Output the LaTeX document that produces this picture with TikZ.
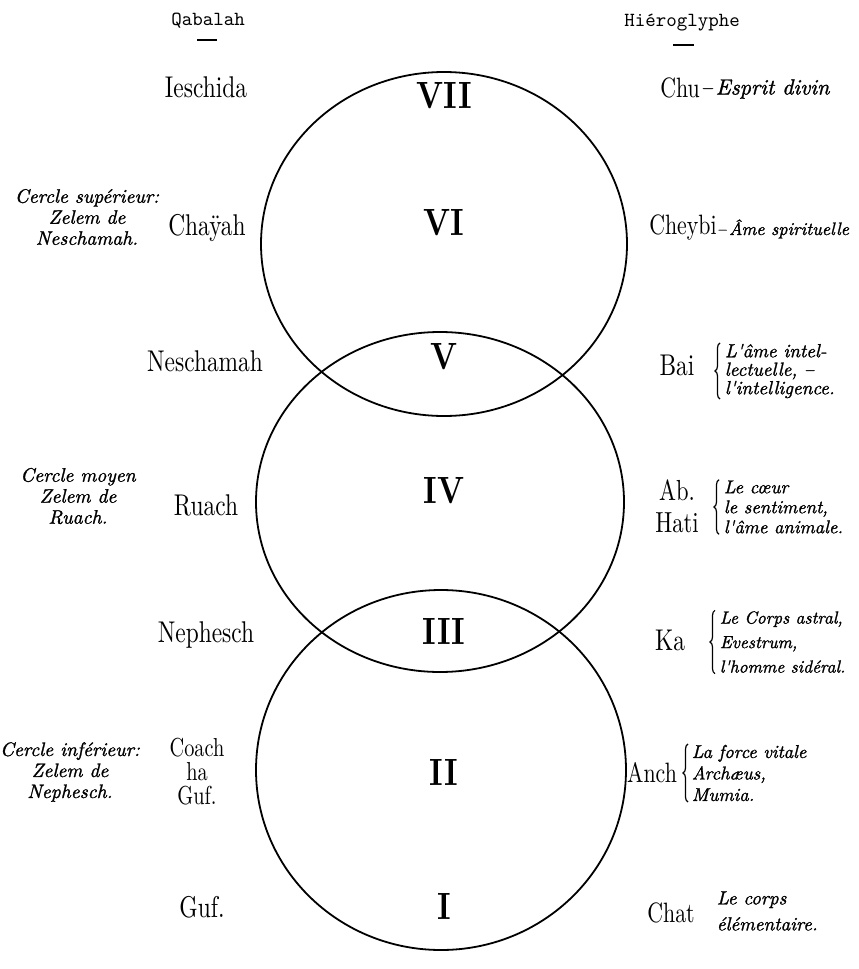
\documentclass[tikz,border=0pt]{standalone}
\usepackage{fontspec}
\usetikzlibrary{decorations.pathreplacing}
\newfontfamily\printfont{lmroman10-regular.otf}[FakeStretch=0.78]
\newfontfamily\numfont{lmroman10-bold.otf}[FakeStretch=0.82]
\newfontfamily\handfont{lmroman10-italic.otf}[FakeBold=1.3]
\newfontfamily\headfont{lmmono10-regular.otf}
\begin{document}
\begin{tikzpicture}[x=1pt,y=1pt,line width=1.8pt,
  lbl/.style={font=\printfont\fontsize{30}{32}\selectfont,inner sep=0pt,anchor=base},
  rlbl/.style={lbl,font=\printfont\fontsize{28}{32}\selectfont},
  roman/.style={font=\numfont\fontsize{38}{38}\selectfont,inner sep=0pt},
  hand/.style={font=\handfont\fontsize{19}{21}\selectfont,inner sep=0pt,align=left,anchor=west},
  cercle/.style={font=\handfont\fontsize{19.5}{21}\selectfont,inner sep=0pt,align=center},
  head/.style={font=\headfont\fontsize{20}{20}\selectfont,inner sep=0pt,anchor=base},
  brace/.style={decorate,decoration={brace,amplitude=5pt},line width=1.2pt}]
  \useasboundingbox (0,0) rectangle (859,-969);
  % the three circles
  \draw (444,-244) ellipse [x radius=183,y radius=172];
  \draw (440,-502) ellipse [x radius=184,y radius=170];
  \draw (441,-770) ellipse [x radius=185,y radius=180];
  % headings
  \node[head] (qab) at (208,-25) {Qabalah};
  \node[head] (hier) at (682,-27) {Hiéroglyphe};
  \coordinate (qabl) at (197,-40);
  \coordinate (qabr) at (217,-40);
  \coordinate (hierl) at (673,-45);
  \coordinate (hierr) at (694,-45);
  \draw (qabl)--(qabr);
  \draw (hierl)--(hierr);
  % numerals
  \node[roman] (n7) at (444,-96) {VII};
  \node[roman] (n6) at (444,-223) {VI};
  \node[roman] (n5) at (444,-357) {V};
  \node[roman] (n4) at (444,-491) {IV};
  \node[roman] (n3) at (444,-631) {III};
  \node[roman] (n2) at (444,-772) {II};
  \node[roman] (n1) at (444,-906) {I};
  % qabalah column
  \node[lbl] (iesch) at (206,-97) {Ieschida};
  \node[lbl] (chay) at (207,-235) {Chaÿah};
  \node[lbl] (nesch) at (205,-371) {Neschamah};
  \node[lbl] (ruach) at (206,-515) {Ruach};
  \node[lbl] (neph) at (206,-642) {Nephesch};
  \node[lbl,anchor=center,align=center,font=\printfont\fontsize{26}{24}\selectfont] (coach) at (197,-772) {Coach\\ha\\Guf.};
  \node[lbl] (guf) at (202,-917) {Guf.};
  % cercles
  \node[cercle] (csup) at (87,-217) {Cercle supérieur:\\Zelem de\\Neschamah.};
  \node[cercle] (cmoy) at (78,-496) {Cercle moyen\\Zelem de\\Ruach.};
  \node[cercle] (cinf) at (70,-772) {Cercle inférieur:\\Zelem de\\Nephesch.};
  % hieroglyphe column
  \node[rlbl] (chu) at (680,-97) {Chu};
  \node[hand,font=\handfont\fontsize{22}{22}\selectfont] (chut) at (700,-89) {\textendash\,Esprit divin};
  \node[rlbl] (cheybi) at (683,-234) {Cheybi};
  \node[hand,font=\handfont\fontsize{18}{20}\selectfont] (cheyt) at (716,-229) {\textendash\,Âme spirituelle};
  \node[rlbl,font=\printfont\fontsize{30}{32}\selectfont] (bai) at (677,-375) {Bai};
  \node[hand,font=\handfont\fontsize{19}{18.5}\selectfont] (bait) at (724,-371) {L'âme intel-\\lectuelle, \textendash\\l'intelligence.};
  \node[rlbl,anchor=center,align=center,font=\printfont\fontsize{29}{32}\selectfont] (abhati) at (677,-506) {Ab.\\Hati};
  \node[hand,font=\handfont\fontsize{18.5}{20}\selectfont] (abt) at (723,-507) {Le cœur\\le sentiment,\\l'âme animale.};
  \node[rlbl,font=\printfont\fontsize{30}{32}\selectfont] (ka) at (670,-650) {Ka};
  \node[hand,font=\handfont\fontsize{17.5}{24.5}\selectfont] (kat) at (719,-642) {Le Corps astral,\\Evestrum,\\l'homme sidéral.};
  \node[rlbl] (anch) at (652,-782) {Anch};
  \node[hand,font=\handfont\fontsize{18.5}{21.5}\selectfont] (ancht) at (691,-773) {La force vitale\\Archæus,\\Mumia.};
  \node[rlbl] (chat) at (671,-922) {Chat};
  \node[hand,font=\handfont\fontsize{19}{26}\selectfont] (chatt) at (716,-911) {Le corps\\élémentaire.};
  % braces
  \draw[brace] ([xshift=-4pt]bait.south west) -- ([xshift=-4pt]bait.north west);
  \draw[brace] ([xshift=-4pt]abt.south west) -- ([xshift=-4pt]abt.north west);
  \draw[brace] ([xshift=-4pt]kat.south west) -- ([xshift=-4pt]kat.north west);
  \draw[brace] ([xshift=-3pt]ancht.south west) -- ([xshift=-3pt]ancht.north west);
\end{tikzpicture}
\end{document}
